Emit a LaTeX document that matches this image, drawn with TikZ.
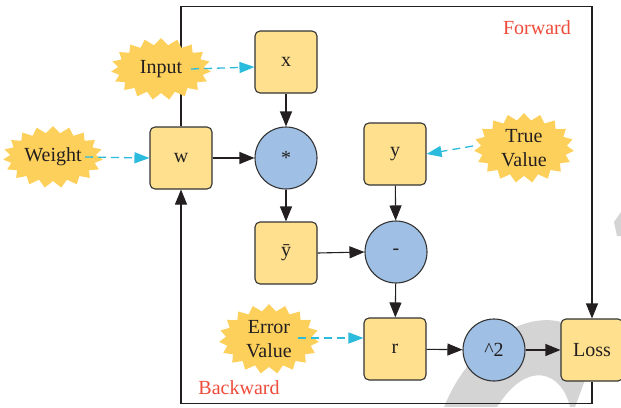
\documentclass[tikz,border=0pt]{standalone}
\usepackage{fontspec}
\setmainfont{Liberation Serif}
\usetikzlibrary{shapes.symbols,arrows.meta,backgrounds}
\definecolor{boxfill}{HTML}{FEE08E}
\definecolor{circfill}{HTML}{9FC0E4}
\definecolor{starfill}{HTML}{FDD05B}
\definecolor{edgec}{HTML}{333333}
\definecolor{inkc}{HTML}{231F20}
\definecolor{dashc}{HTML}{2BBBDD}
\definecolor{labred}{HTML}{EE4B3A}
\definecolor{wmark}{HTML}{D4D4D4}
\begin{document}
\begin{tikzpicture}[x=1pt,y=-1pt,
  font=\fontsize{20}{24}\selectfont,
  box/.style={draw=edgec,line width=1.1pt,fill=boxfill,rounded corners=5pt,minimum size=62pt,inner sep=0pt,text=inkc},
  op/.style={circle,draw=edgec,line width=1.1pt,fill=circfill,minimum size=62pt,inner sep=0pt,text=inkc},
  burst/.style={starburst,starburst points=19,starburst point height=7pt,random starburst=0,fill=starfill,draw=none,inner sep=1pt,align=center,minimum width=100pt,minimum height=62pt,text=inkc},
  flow/.style={draw=inkc,line width=1.1pt,-{Triangle[length=15pt,width=12pt]}},
  feed/.style={draw=dashc,line width=1.3pt,dash pattern=on 8pt off 5pt,-{Triangle[length=15pt,width=11pt]}},
  lab/.style={text=labred}]
\useasboundingbox (0,0) rectangle (621,407);
% nodes
\node[box] (x) at (286,62) {x};
\node[box] (w) at (181,158) {w};
\node[op] (mul) at (286,158) {*};
\node[box] (y) at (395,154) {y};
\node[box] (ybar) at (286,253) {\=y};
\node[op] (minus) at (396,252) {-};
\node[box] (r) at (395,349) {r};
\node[op] (sq) at (494,350) {\textasciicircum 2};
\node[box] (loss) at (592,350) {Loss};
\node[burst] (input) at (161,69) {Input};
\node[burst] (weight) at (53,157) {Weight};
\node[burst] (tv) at (524,148) {True\\Value};
\node[burst] (ev) at (269,339) {Error\\Value};
\node[lab] (fwd) at (537,28) {Forward};
\node[lab] (bwd) at (239,388) {Backward};
\begin{pgfonlayer}{background}
\fill[wmark] (444,407) .. controls (474,333) and (545,298) .. (585,335) -- (585,380) -- (575,407) -- (570,407) .. controls (562,372) and (528,358) .. (497,407) -- cycle;
\fill[wmark] (621,212) -- (614,222) -- (617,236) -- (621,236) -- cycle;
\draw[flow] (w.north) -- ++(0,-120) -| (loss.north);
\draw[flow] (loss.south) -- ++(0,22) -| (w.south);
\end{pgfonlayer}
% connectors
\draw[flow] (x) -- (mul);
\draw[flow] (w) -- (mul);
\draw[flow] (mul) -- (ybar);
\draw[flow] (y) -- (minus);
\draw[flow] (ybar.east) -- (minus.west);
\draw[flow] (minus) -- (r);
\draw[flow] (r) -- (sq);
\draw[flow] (sq) -- (loss);
\draw[feed] ([xshift=30pt]input.center) -- ([yshift=-5pt]x.west);
\draw[feed] ([xshift=32pt]weight.center) -- (w.west);
\draw[feed] ([xshift=-51pt,yshift=2pt]tv.center) -- (y.east);
\draw[feed] ([xshift=29pt,yshift=1pt]ev.center) -- ([yshift=11pt]r.west);
\end{tikzpicture}
\end{document}
